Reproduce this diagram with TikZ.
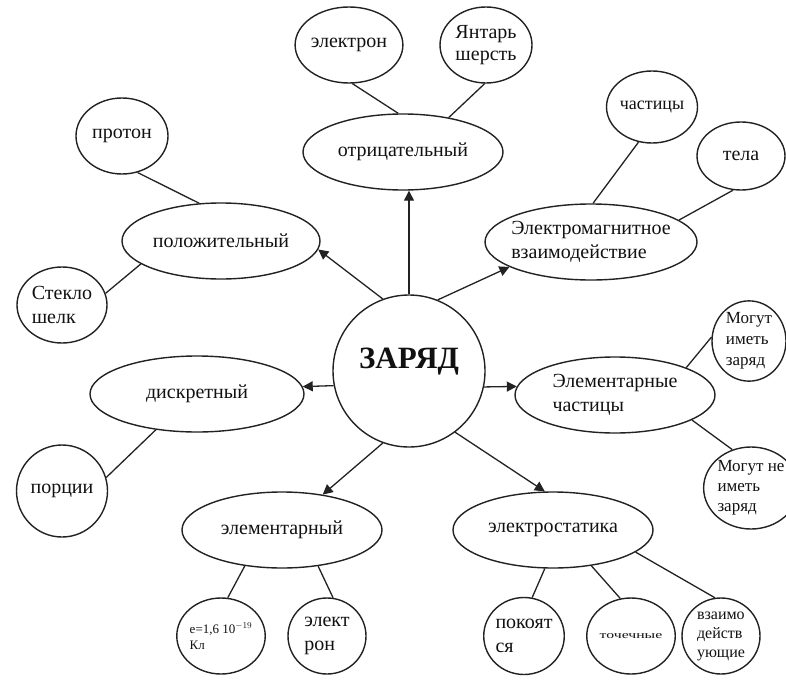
\documentclass[tikz,border=0pt]{standalone}
\usepackage{fontspec}
\setmainfont{Liberation Serif}
\usepackage{graphicx}
\usepackage{tikz}
\usetikzlibrary{arrows.meta, shapes.geometric}
\definecolor{InkLine}{HTML}{222222}
\definecolor{InkText}{HTML}{111111}

\begin{document}
\begin{tikzpicture}[x=1pt, y=-1pt,
    hub/.style={
      circle, draw=InkLine, line width=1.4pt, minimum size=152pt,
      inner sep=0pt, text=InkText, text depth=26pt,
      font=\fontsize{31}{31}\selectfont\bfseries
    },
    branch/.style={
      ellipse, draw=InkLine, line width=1.4pt, minimum width=#1,
      minimum height=76pt, inner sep=0pt, align=left, text=InkText,
      font=\fontsize{20}{24}\selectfont
    },
    branch/.default=200pt,
    leaf/.style={
      ellipse, draw=InkLine, line width=1.4pt, minimum width=#1,
      minimum height=76pt, inner sep=0pt, align=left, text=InkText,
      font=\fontsize{20}{24}\selectfont
    },
    leaf/.default=92pt,
    arr/.style={-{Triangle[length=10pt,width=10pt]}, line width=1.3pt, color=InkLine},
    link/.style={line width=1.3pt, color=InkLine}
  ]
    \useasboundingbox (0,0) rectangle (786,690);

    % Centre
    \node[hub] (zar) at (409,371) {ЗАРЯД};

    % Branches
    \node[branch] (otr) at (403,152) {отрицательный};
    \node[branch=198pt] (pol) at (221,241) {положительный};
    \node[branch=212pt, inner xsep=-8pt] (emv) at (591,242)
      {Электромагнитное\\взаимодействие};
    \node[branch=214pt] (disk) at (197,394) {дискретный};
    \node[branch] (elch) at (615,395) {Элементарные\\частицы};
    \node[branch] (elem) at (282,530) {элементарный};
    \node[branch] (stat) at (553,530) {электростатика};

    % Leaves
    \node[leaf] (elek) at (349,45) {электрон};
    \node[leaf, font=\fontsize{20}{22}\selectfont] (yant) at (486,45) {Янтарь\\шерсть};
    \node[leaf] (prot) at (122,136) {протон};
    \node[leaf=90pt] (stek) at (62,305) {Стекло\\шелк};
    \node[leaf=91pt, minimum height=72pt, font=\fontsize{18}{20}\selectfont] (chast) at (652,107) {частицы};
    \node[leaf=88pt, minimum height=68pt] (tela) at (741,156) {тела};
    \node[leaf=91pt, minimum height=92pt] (porc) at (62,491) {порции};
    \node[leaf=78pt, font=\fontsize{13}{16}\selectfont] (echg) at (221,636)
      {e=1,6 10$^{-19}$\\Кл};
    \node[leaf=78pt] (elek2) at (327,636) {элект\\рон};
    \node[leaf=74pt, font=\fontsize{17}{21}\selectfont] (mog1) at (749,341)
      {Могут\\иметь\\заряд};
    \node[leaf=76pt, minimum height=82pt, font=\fontsize{17}{20}\selectfont] (mog2) at (751,488)
      {Могут не\\иметь\\заряд};
    \node[leaf=78pt, minimum height=77pt] (pok) at (524,636) {покоят\\ся};
    \node[leaf=78pt, font=\fontsize{10.5}{12}\selectfont] (toch) at (631,636)
      {\scalebox{1.5}[1]{точечные}};
    \node[leaf=78pt, font=\fontsize{16}{19}\selectfont] (vzai) at (721,636)
      {взаимо\\действ\\ующие};

    % Arrows
    \draw[arr] (zar.north) -- (zar.north |- otr.south);
    \draw[arr] (zar.110)   -- (pol.-5);
    \draw[arr] (zar.68)    -- (emv.197);
    \draw[arr] (zar.191)   -- (disk.4);
    \draw[arr] (zar.-12)   -- (elch.175);
    \draw[arr] (zar.-110)  -- (elem.41);
    \draw[arr] (zar.-53)   -- (stat.102);

    % Links
    \draw[link] (elek.-85)   -- (otr.97);
    \draw[link] (yant.-92)   -- (otr.37);
    \draw[link] (prot.-67)   -- (pol.120);
    \draw[link] (stek.15)    -- (pol.-164);
    \draw[link] (chast.-111) -- (emv.87);
    \draw[link] (tela.-103)  -- (emv.14);
    \draw[link] (porc.17)    -- (disk.-139);
    \draw[link] (echg.80)    -- (elem.-136);
    \draw[link] (elek2.81)   -- (elem.-45);
    \draw[link] (mog1.174)   -- (elch.21);
    \draw[link] (mog2.116)   -- (elch.-18);
    \draw[link] (pok.78)     -- (stat.-102);
    \draw[link] (toch.106)   -- (stat.-43);
    \draw[link] (vzai.99)    -- (stat.-15);
  \end{tikzpicture}
\end{document}
